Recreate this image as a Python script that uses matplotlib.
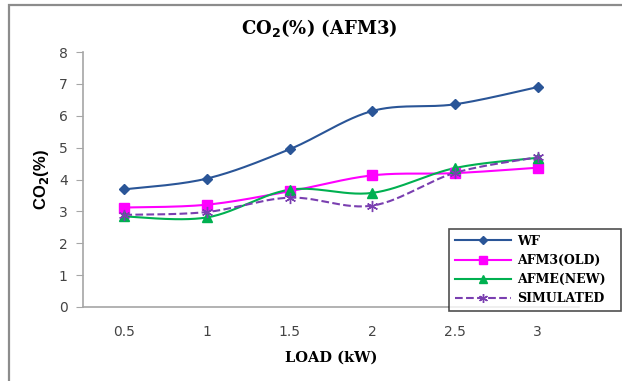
import matplotlib.pyplot as plt
import numpy as np
from matplotlib.patches import Rectangle

# load steps and CO2 readings for each configuration
LOADS = ["0.5", "1", "1.5", "2", "2.5", "3"]
WF = [3.69, 4.03, 4.95, 6.15, 6.36, 6.90]
AFM3_OLD = [3.12, 3.21, 3.63, 4.13, 4.20, 4.37]
AFME_NEW = [2.84, 2.81, 3.68, 3.58, 4.36, 4.68]
SIMULATED = [2.89, 2.98, 3.43, 3.18, 4.21, 4.70]

W, H = 622, 381


def smooth(xs, ys, n=30):
    # Bezier smoothing through every point (spreadsheet style smoothed line)
    p = np.column_stack([xs, ys]).astype(float)
    p = np.vstack([p[0], p, p[-1]])
    out = []
    for i in range(1, len(p) - 2):
        p0, p1, p2, p3 = p[i - 1], p[i], p[i + 1], p[i + 2]
        c1 = p1 + (p2 - p0) / 6.0
        c2 = p2 - (p3 - p1) / 6.0
        t = np.linspace(0, 1, n)[:, None]
        seg = ((1 - t) ** 3) * p1 + 3 * ((1 - t) ** 2) * t * c1 + 3 * (1 - t) * t ** 2 * c2 + t ** 3 * p2
        out.append(seg if i == 1 else seg[1:])
    seg = np.vstack(out)
    return seg[:, 0], seg[:, 1]


fig = plt.figure(figsize=(W / 100, H / 100), dpi=100)
# chart frame: only top and left edges fall inside the image
fig.patches.append(Rectangle((8.5 / W, -0.1), 1.5, 1 - 4.5 / H + 0.1, transform=fig.transFigure,
                             fill=False, edgecolor="#8c8c8c", linewidth=1.6))

ax = fig.add_axes([83 / W, (H - 307) / H, 496 / W, 255 / H])
x = np.arange(len(LOADS))

series = [
    ("WF", WF, "#2a5597", "D", 5.5, "-"),
    ("AFM3(OLD)", AFM3_OLD, "#ff00ff", "s", 7, "-"),
    ("AFME(NEW)", AFME_NEW, "#00b050", "^", 7, "-"),
    ("SIMULATED", SIMULATED, "#7a3fb0", (6, 2, 0), 8, "--"),
]
for label, vals, col, mk, ms, ls in series:
    sx, sy = smooth(x, vals)
    ax.plot(sx, sy, color=col, lw=1.5, ls=ls, zorder=2)
    ax.plot(x, vals, ls="none", marker=mk, ms=ms, color=col, mec=col, zorder=3)
    ax.plot([], [], color=col, lw=1.5, ls=ls, marker=mk, ms=ms * 0.8, mec=col, label=label)

ax.set_xlim(-0.5, len(LOADS) - 0.5)
ax.set_ylim(0, 8)
ax.set_yticks(range(0, 9))
ax.set_xticks(x)
ax.set_xticklabels(LOADS)
for s in ("top", "right"):
    ax.spines[s].set_visible(False)
for s in ("left", "bottom"):
    ax.spines[s].set_color("#a6a6a6")
    ax.spines[s].set_linewidth(1.2)
ax.tick_params(axis="y", length=5, color="#a6a6a6", labelsize=10, labelcolor="#444444", pad=6)
ax.tick_params(axis="x", length=0, labelsize=10, labelcolor="#444444", pad=13)

ax.set_title("CO$_\\mathbf{2}$(%) (AFM3)", family="DejaVu Serif", fontweight="bold",
             fontsize=13, pad=13, x=0.477)
ax.set_xlabel("LOAD (kW)", family="DejaVu Serif", fontweight="bold", fontsize=10.5, labelpad=8)
ax.set_ylabel("CO$_\\mathbf{2}$(%)", family="Liberation Sans", fontweight="bold", fontsize=12,
              labelpad=6)

leg = ax.legend(loc="center", bbox_to_anchor=(449 / W, (H - 310) / H, 172 / W, 80 / H),
                bbox_transform=fig.transFigure, mode="expand", frameon=True, fancybox=False,
                handlelength=4.5, borderpad=0.45, labelspacing=0.5, handletextpad=0.5,
                borderaxespad=0,
                prop={"family": "DejaVu Serif", "weight": "bold", "size": 9})
leg.get_frame().set_edgecolor("#222222")
leg.get_frame().set_linewidth(1.2)

fig.savefig("out.png", dpi=100)
